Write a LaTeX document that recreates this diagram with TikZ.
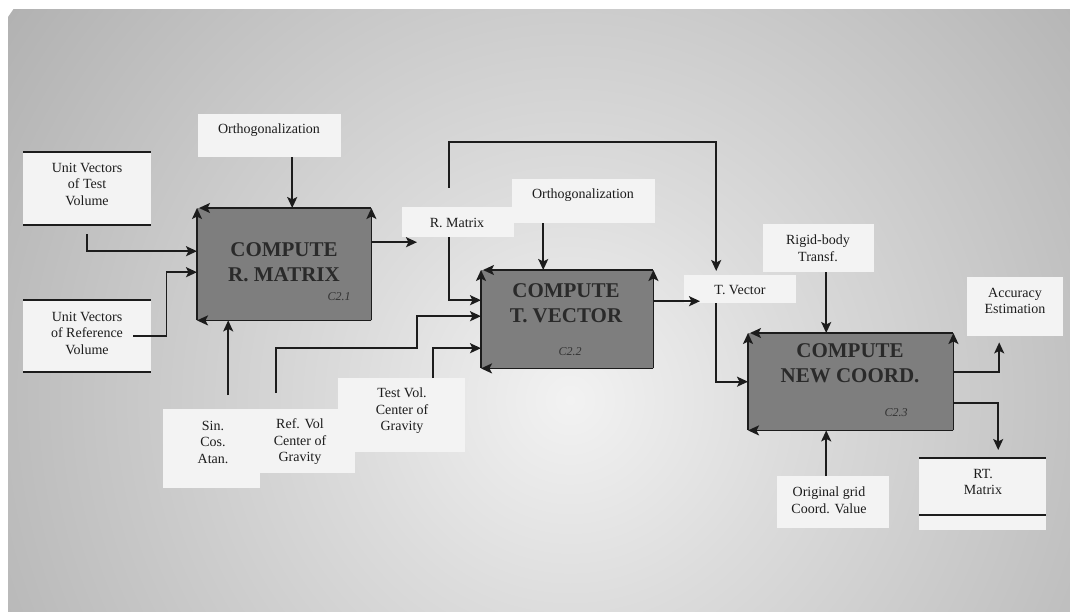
\documentclass[tikz,border=0pt]{standalone}
\usepackage{fontspec}
\setmainfont{Liberation Serif}
\usetikzlibrary{arrows.meta,calc}

\definecolor{lnc}{HTML}{1C1C1C}
\definecolor{labfill}{HTML}{F3F3F3}
\definecolor{boxfill}{HTML}{7E7E7E}
\definecolor{ttlcol}{HTML}{2A2A2A}
\definecolor{codecol}{HTML}{333333}
\definecolor{bga}{HTML}{F2F2F2}
\definecolor{bgb}{HTML}{DCDCDC}
\definecolor{bgc}{HTML}{B2B2B2}
\definecolor{bgd}{HTML}{8C8C8C}
\pgfdeclareradialshading{bggrad}{\pgfpoint{0bp}{0bp}}{color(0bp)=(bga); color(8bp)=(bgb); color(25bp)=(bgc); color(50bp)=(bgd)}

\tikzset{
  lab/.style={fill=labfill, draw=none, inner sep=0pt, anchor=north west},
  txt/.style={font=\fontsize{14}{16.5}\selectfont, text=lnc, align=center, inner sep=0pt},
  proc/.style={fill=boxfill, draw=none, inner sep=0pt, anchor=north west},
  ttlstyle/.style={font=\fontsize{21}{25}\selectfont\bfseries, text=ttlcol, align=center, inner sep=0pt},
  code/.style={font=\fontsize{12}{14}\selectfont\itshape, text=codecol, inner sep=0pt},
  arr/.style={draw=lnc, line width=1.8pt, -{Stealth[length=11pt,width=10pt,inset=2.5pt]}},
  rulebar/.style={draw=lnc, line width=2pt},
}

\begin{document}
\begin{tikzpicture}[x=1pt, y=-1pt]
\useasboundingbox (0,0) rectangle (1070,612);

% backdrop: white margin and a soft radial grey
\fill[white] (0,0) rectangle (1070,612);
\begin{scope}
  \clip (8,10) rectangle (1070,612);
  \shade[shading=bggrad] (570,400) circle (680pt);
\end{scope}

% label panels
\node[lab, minimum width=143pt, minimum height=43pt] (orth1) at (198,114) {};
\node[lab, minimum width=128pt, minimum height=73pt] (uvt) at (23,152) {};
\node[lab, minimum width=128pt, minimum height=72pt] (uvr) at (23,300) {};
\node[lab, minimum width=112pt, minimum height=30pt] (rmat) at (402,207) {};
\node[lab, minimum width=143pt, minimum height=44pt] (orth2) at (512,179) {};
\node[lab, minimum width=112pt, minimum height=28pt] (tvec) at (684,275) {};
\node[lab, minimum width=111pt, minimum height=48pt] (rigid) at (763,224) {};
\node[lab, minimum width=96pt, minimum height=59pt] (acc) at (967,277) {};
\node[lab, minimum width=97pt, minimum height=79pt] (sin) at (163,409) {};
\node[lab, minimum width=95pt, minimum height=64pt] (refv) at (260,409) {};
\node[lab, minimum width=127pt, minimum height=74pt] (testv) at (338,378) {};
\node[lab, minimum width=112pt, minimum height=52pt] (orig) at (777,476) {};
\node[lab, minimum width=127pt, minimum height=72pt] (rtm) at (919,458) {};

% data-store bars
\draw[rulebar] (uvt.north west) -- (uvt.north east);
\draw[rulebar] (uvt.south west) -- (uvt.south east);
\draw[rulebar] (uvr.north west) -- (uvr.north east);
\draw[rulebar] (uvr.south west) -- (uvr.south east);
\draw[rulebar] (rtm.north west) -- (rtm.north east);
\draw[rulebar] ($(rtm.south west)+(0,-15)$) -- ($(rtm.south east)+(0,-15)$);

% process boxes
\node[proc, minimum width=174pt, minimum height=112pt] (rm) at (197,208) {};
\node[proc, minimum width=172pt, minimum height=98pt] (tv) at (481,270) {};
\node[proc, minimum width=205pt, minimum height=97pt] (nc) at (748,333) {};

\foreach \b in {rm,tv,nc}{
  \draw[arr] (\b.south east) -- (\b.south west);
  \draw[arr] (\b.south west) -- (\b.north west);
  \draw[arr, shorten >=2pt] (\b.north east) -- (\b.north west);
  \draw[arr] (\b.south east) -- (\b.north east);
}

% ports
\coordinate (o1p) at ([xshift=22.5pt]orth1.south);
\coordinate (o2p) at ([xshift=-40.5pt]orth2.south);
\coordinate (rgp) at ([xshift=7.5pt]rigid.south);
\coordinate (ogp) at ([xshift=-7pt]orig.north);
\coordinate (sinp) at ($(sin.north)+(16.5,-14)$);

% connectors
\draw[arr] (o1p) -- (o1p |- rm.north);
\draw[arr] ([yshift=-9pt]uvt.south) |- ([yshift=13pt]rm.west);
\draw[arr] ([xshift=-18pt]uvr.east) -- ++(33,0) |- ([yshift=-8pt]rm.west);
\draw[arr] (sinp) -- (sinp |- rm.south);
\draw[arr] ([yshift=22pt]rm.east) -- ($(rmat.west)+(15,20)$);
\draw[arr] ([xshift=-9pt]rmat.south) |- ([yshift=19pt]tv.west);
\draw[arr] ($(rmat.north)+(-9,-19)$) -- ++(0,-46) -| ($(tvec.north)+(-24,-4)$);
\draw[arr] (o2p) -- (o2p |- tv.north);
\draw[arr] ($(refv.north)+(-31.5,-16)$) |- ($(tv.west)+(-64,29)$) |- ([yshift=3pt]tv.west);
\draw[arr] ($(testv.north)+(31.5,0)$) |- ([yshift=-29pt]tv.west);
\draw[arr] ([yshift=18pt]tv.east) -- ($(tvec.west)+(16,12)$);
\draw[arr] ([xshift=-24pt]tvec.south) |- (nc.west);
\draw[arr] (rgp) -- (rgp |- nc.north);
\draw[arr] (ogp) -- (ogp |- nc.south);
\draw[arr] ([yshift=9.5pt]nc.east) -| ($(acc.south)+(-16,6)$);
\draw[arr] ([yshift=-21.5pt]nc.east) -| ($(rtm.north)+(15.5,-8)$);

% texts
\node[txt] (orth1-t) at (269,130) {Orthogonalization};
\node[txt] (uvt-t) at (87,184) {Unit Vectors\\of Test\\Volume};
\node[txt] (uvr-t) at (87,333) {Unit Vectors\\of Reference\\Volume};
\node[txt] (rmat-t) at (457,223) {R. Matrix};
\node[txt] (orth2-t) at (583,195) {Orthogonalization};
\node[txt] (tvec-t) at (740,290) {T. Vector};
\node[txt] (rigid-t) at (818,248) {Rigid-body\\Transf.};
\node[txt] (acc-t) at (1015,301) {Accuracy\\Estimation};
\node[txt] (sin-t) at (213,442) {Sin.\\Cos.\\Atan.};
\node[txt] (refv-t) at (300,442) {Ref. Vol\\Center of\\Gravity};
\node[txt] (testv-t) at (402,411) {Test Vol.\\Center of\\Gravity};
\node[txt] (orig-t) at (829,500) {Original grid\\Coord. Value};
\node[txt] (rtm-t) at (983,482) {RT.\\Matrix};

\node[ttlstyle] (rm-t) at (284,262) {COMPUTE\\R. MATRIX};
\node[ttlstyle] (tv-t) at (566,303) {COMPUTE\\T. VECTOR};
\node[ttlstyle] (nc-t) at (850,363) {COMPUTE\\NEW COORD.};

\node[code] (rm-c) at (339,297) {C2.1};
\node[code] (tv-c) at (570,352) {C2.2};
\node[code] (nc-c) at (896,413) {C2.3};
\end{tikzpicture}
\end{document}
